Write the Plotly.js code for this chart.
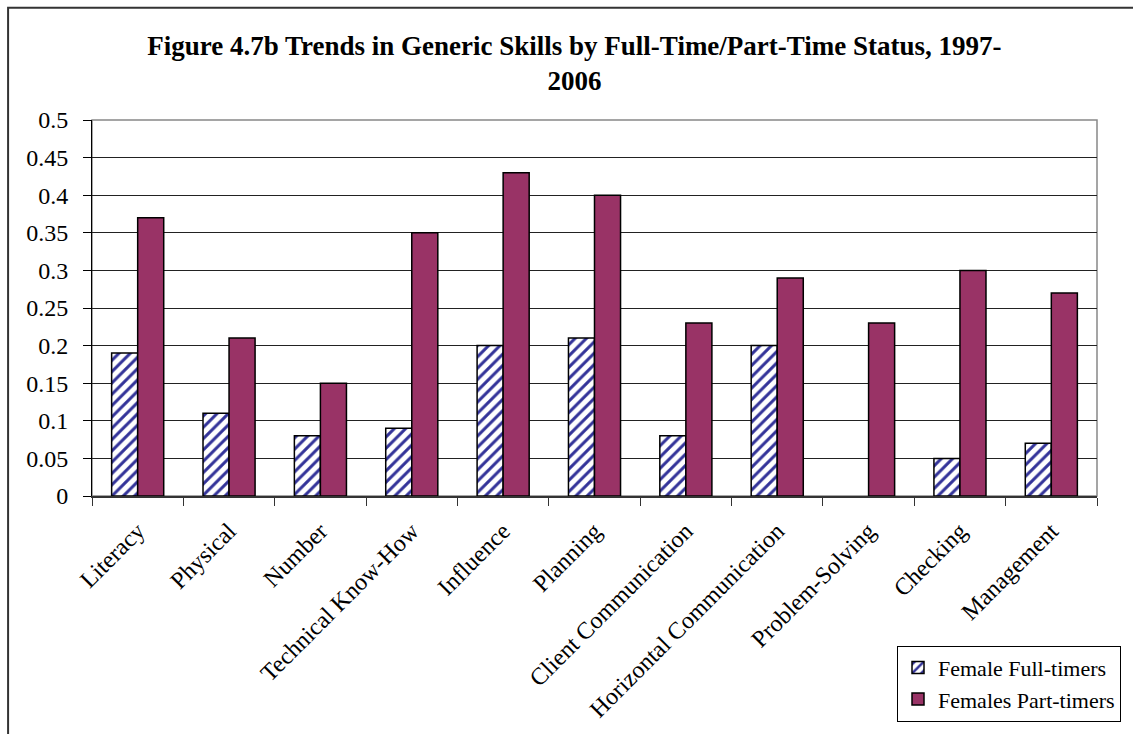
<!DOCTYPE html>
<html>
<head>
<meta charset="utf-8">
<script src="https://cdn.plot.ly/plotly-3.0.1.min.js"></script>
<style>
  html, body { margin: 0; padding: 0; background: #fff; }
  #chart { width: 1133px; height: 734px; }
</style>
</head>
<body>
<div id="chart"></div>
<script>
const categories = ["Literacy", "Physical", "Number", "Technical Know-How", "Influence", "Planning",
  "Client Communication", "Horizontal Communication", "Problem-Solving", "Checking", "Management"];
const fullTimers = [0.19, 0.11, 0.08, 0.09, 0.20, 0.21, 0.08, 0.20, null, 0.05, 0.07];
const partTimers = [0.37, 0.21, 0.15, 0.35, 0.43, 0.40, 0.23, 0.29, 0.23, 0.30, 0.27];
const yTickVals = [0, 0.05, 0.1, 0.15, 0.2, 0.25, 0.3, 0.35, 0.4, 0.45, 0.5];
const yTickText = ["0", "0.05", "0.1", "0.15", "0.2", "0.25", "0.3", "0.35", "0.4", "0.45", "0.5"];

const FONT = "Liberation Serif, Times New Roman, serif";

const traces = [
  {
    type: "bar", name: "Female Full-timers", x: categories, y: fullTimers,
    marker: {
      color: "#333399",
      pattern: { shape: "/", bgcolor: "#ffffff", fgcolor: "#333399", size: 8, solidity: 0.38 },
      line: { color: "#000000", width: 1.5 }
    }
  },
  {
    type: "bar", name: "Females Part-timers", x: categories, y: partTimers,
    marker: { color: "#993366", line: { color: "#000000", width: 1.5 } }
  }
];

const layout = {
  width: 1133, height: 734,
  margin: { l: 92, r: 30, t: 120, b: 230 },
  paper_bgcolor: "#ffffff", plot_bgcolor: "#ffffff",
  font: { family: FONT, size: 24, color: "#000000" },
  title: {
    text: "<b>Figure 4.7b Trends in Generic Skills by Full-Time/Part-Time Status, 1997-<br>2006</b>",
    font: { family: FONT, size: 27, color: "#000000" },
    x: 0.507, xanchor: "center", y: 0.925, yanchor: "top", yref: "container"
  },
  barmode: "group", bargap: 0.43, bargroupgap: 0,
  showlegend: true,
  legend: {
    x: 0.801, xanchor: "left", y: -0.398, yanchor: "top",
    bordercolor: "#000000", borderwidth: 1, bgcolor: "#ffffff",
    font: { family: FONT, size: 22, color: "#000000" },
    tracegroupgap: 0, itemwidth: 30
  },
  xaxis: {
    type: "category", showgrid: false, showline: true, linecolor: "#333333", linewidth: 1.5,
    ticks: "outside", tickson: "boundaries", ticklen: 8, tickcolor: "#333333",
    tickangle: -45, ticklabelstandoff: 10,
    tickfont: { family: FONT, size: 24, color: "#000000" }
  },
  yaxis: {
    range: [0, 0.5], tickvals: yTickVals, ticktext: yTickText,
    showgrid: true, gridcolor: "#222222", gridwidth: 1, zeroline: false,
    showline: true, linecolor: "#000000", linewidth: 1,
    ticks: "outside", ticklen: 8, tickcolor: "#000000", ticklabelstandoff: 10,
    tickfont: { family: FONT, size: 24, color: "#000000" }
  },
  shapes: [
    { type: "rect", xref: "paper", yref: "paper", x0: 0, x1: 1, y0: 0, y1: 1,
      line: { color: "#888888", width: 1.5 }, layer: "below" },
    { type: "rect", xref: "paper", yref: "paper", x0: -0.0835, x1: 1.1, y0: -0.65, y1: 1.2985,
      line: { color: "#333333", width: 2 }, layer: "below" }
  ]
};

Plotly.newPlot("chart", traces, layout, { displayModeBar: false, staticPlot: true });
</script>
</body>
</html>
